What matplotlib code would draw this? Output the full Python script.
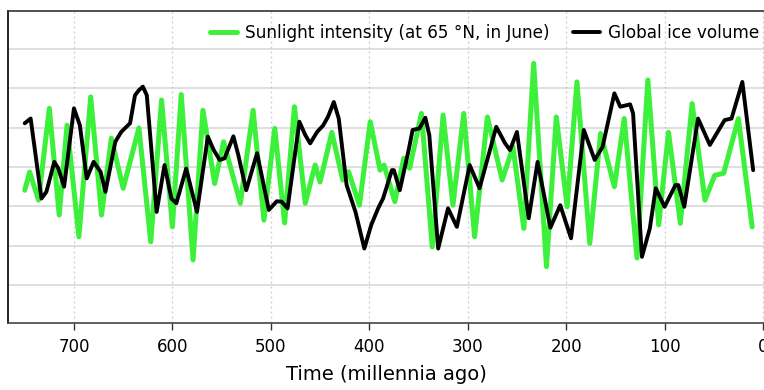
import matplotlib
matplotlib.use('Agg')
import matplotlib.pyplot as plt

# Сонячна інсоляція (65 °N, червень), час у тисячоліттях тому
sun_time = [750, 745, 736, 725, 715, 707, 695, 683, 672, 662, 650, 634, 622, 611, 600,
            591, 579, 569, 557, 548, 531, 518, 507, 496, 486, 476, 465, 455, 450, 438,
            427, 421, 410, 399, 389, 385, 374, 365, 359, 347, 336, 325, 315, 304, 293,
            280, 265, 254, 243, 233, 220, 210, 199, 189, 176, 165, 151, 141, 128, 117,
            106, 96, 84, 72, 59, 49, 40, 25, 11]
sun_value = [3.41, 3.87, 3.16, 5.49, 2.78, 5.06, 2.23, 5.78, 2.78, 4.73, 3.46, 4.99, 2.10, 5.70, 2.48,
             5.84, 1.64, 5.44, 3.58, 4.64, 3.08, 5.44, 2.65, 4.98, 2.58, 5.53, 3.08, 4.05, 3.62, 4.88,
             3.67, 3.88, 3.03, 5.15, 3.92, 4.05, 3.12, 4.22, 3.97, 5.36, 1.97, 5.32, 3.03, 5.36, 2.23,
             5.27, 3.67, 4.51, 2.44, 6.63, 1.47, 5.27, 2.99, 6.16, 2.06, 4.85, 3.50, 5.23, 1.69, 6.21,
             2.53, 4.88, 2.57, 5.61, 3.16, 3.79, 3.84, 5.23, 2.48]

# Глобальний об'єм льоду
ice_time = [750, 744, 733, 728, 720, 716, 710, 700, 694, 687, 680, 673, 668, 658, 652,
            643, 638, 634, 630, 626, 616, 608, 601, 596, 586, 575, 564, 558, 552, 547,
            538, 533, 525, 514, 502, 494, 489, 483, 471, 465, 460, 453, 447, 442, 436,
            431, 423, 414, 405, 398, 391, 386, 377, 375, 369, 360, 356, 349, 343, 339,
            330, 320, 311, 298, 288, 271, 262, 257, 250, 238, 229, 216, 206, 195, 182,
            171, 163, 151, 145, 135, 132, 123, 115, 109, 100, 89, 86, 80, 66, 54,
            39, 32, 21, 10]
ice_value = [5.11, 5.23, 3.20, 3.37, 4.13, 3.97, 3.50, 5.49, 5.06, 3.71, 4.13, 3.88, 3.37, 4.64, 4.89,
             5.11, 5.82, 5.95, 6.04, 5.82, 2.86, 4.05, 3.20, 3.08, 3.96, 2.86, 4.77, 4.43, 4.18, 4.22,
             4.78, 4.30, 3.41, 4.35, 2.91, 3.13, 3.12, 2.95, 5.15, 4.81, 4.60, 4.89, 5.05, 5.27, 5.65,
             5.23, 3.54, 2.86, 1.93, 2.53, 2.95, 3.20, 3.92, 3.92, 3.41, 4.43, 4.94, 4.98, 5.25, 4.81,
             1.93, 2.95, 2.48, 4.05, 3.46, 5.02, 4.60, 4.43, 4.89, 2.70, 4.13, 2.46, 3.03, 2.19, 4.94,
             4.18, 4.51, 5.87, 5.53, 5.59, 5.36, 1.72, 2.44, 3.46, 2.99, 3.54, 3.54, 2.99, 5.23, 4.56,
             5.19, 5.23, 6.16, 3.92]

x_ticks = [700, 600, 500, 400, 300, 200, 100, 0]

fig = plt.figure(figsize=(7.64, 3.9), dpi=100)
ax = fig.add_axes([8 / 764, 67 / 390, 1 - 8 / 764, 312 / 390])

ax.plot(sun_time, sun_value, color='#3cf03c', lw=3.6, solid_joinstyle='round',
        solid_capstyle='round', label='Sunlight intensity (at 65 °N, in June)', zorder=3)
ax.plot(ice_time, ice_value, color='black', lw=2.8, solid_joinstyle='round',
        solid_capstyle='round', label='Global ice volume', zorder=4)

ax.set_xlim(767, -1)
ax.set_ylim(0.04, 7.96)
ax.set_xticks(x_ticks)
ax.set_xticklabels([str(t) for t in x_ticks], fontsize=12)
ax.set_yticks([])
for yv in range(1, 8):
    ax.axhline(yv, color='#d9d9d9', lw=1.2, zorder=1)
for xv in x_ticks:
    ax.axvline(xv, color='#cccccc', lw=0.9, ls=(0, (1.5, 2.5)), zorder=1)

ax.tick_params(axis='x', length=5, width=1, pad=6, color='#333333')
ax.spines['right'].set_visible(False)
ax.spines['left'].set_color('black')
ax.spines['top'].set_color('#333333')
ax.spines['bottom'].set_color('#444444')
for s in ['left', 'top', 'bottom']:
    ax.spines[s].set_linewidth(1.2)

ax.set_xlabel('Time (millennia ago)', fontsize=14, labelpad=6)

ax.legend(loc='center right', bbox_to_anchor=(759 / 764, 1 - 33 / 390),
          bbox_transform=fig.transFigure, ncol=2, frameon=False, fontsize=12.2,
          handlelength=1.6, handletextpad=0.45, columnspacing=1.4,
          borderpad=0, borderaxespad=0)

fig.savefig('out.png', dpi=100)
